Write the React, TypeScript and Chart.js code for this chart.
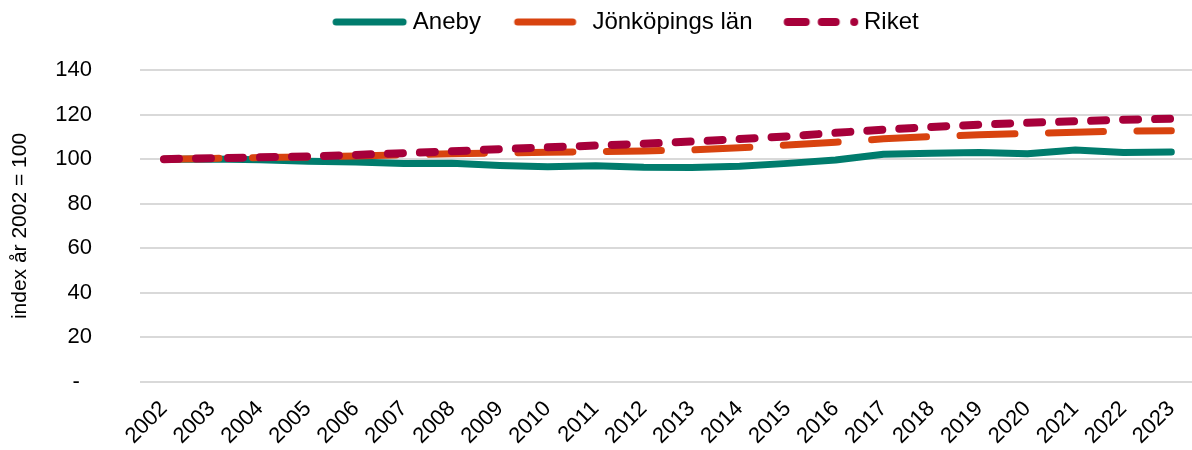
import React, { useEffect, useRef } from "react";
import { Chart, registerables } from "chart.js";

Chart.register(...registerables);

const years = [
  "2002", "2003", "2004", "2005", "2006", "2007", "2008", "2009", "2010", "2011", "2012",
  "2013", "2014", "2015", "2016", "2017", "2018", "2019", "2020", "2021", "2022", "2023",
];

const aneby = [
  100.0, 100.1, 99.7, 99.0, 98.7, 98.0, 98.2, 97.2, 96.6, 97.0, 96.4,
  96.3, 96.8, 98.1, 99.6, 102.2, 102.6, 103.0, 102.4, 104.1, 103.0, 103.2,
];

const jonkopingsLan = [
  100.0, 100.3, 100.7, 101.0, 101.4, 101.9, 102.4, 102.8, 103.1, 103.4, 103.7,
  104.1, 105.1, 106.3, 107.6, 109.1, 110.1, 110.9, 111.5, 112.1, 112.6, 112.7,
];

const riket = [
  100.0, 100.4, 100.8, 101.2, 101.9, 102.7, 103.5, 104.5, 105.3, 106.1, 106.9,
  107.9, 109.0, 110.2, 111.8, 113.2, 114.4, 115.5, 116.3, 117.0, 117.7, 118.1,
];

const yMin = 0;
const yMax = 140;
const yStep = 20;
const zeroLabel = "-  ";

const seriesNames = ["Aneby", "Jönköpings län", "Riket"];
const yTitle = "index år 2002 = 100";

const FONT = "'Liberation Sans', Arial, Helvetica, sans-serif";
const TEAL = "#007C6D";
const ORANGE = "#D8430F";
const CRIMSON = "#A7003A";

function makeSample(segments: [number, number][], color: string, width: number) {
  const c = document.createElement("canvas");
  c.width = 110;
  c.height = 12;
  const ctx = c.getContext("2d")!;
  ctx.strokeStyle = color;
  ctx.lineWidth = width;
  ctx.lineCap = "round";
  for (const [a, b] of segments) {
    ctx.beginPath();
    ctx.moveTo(a, 6);
    ctx.lineTo(b, 6);
    ctx.stroke();
  }
  return c;
}

export default function App() {
  const ref = useRef<HTMLCanvasElement>(null);

  useEffect(() => {
    const samples = [
      makeSample([[35, 102]], TEAL, 7),
      makeSample([[37, 92]], ORANGE, 7),
      makeSample([[35.5, 53.5], [69.5, 83.5], [102, 102.01]], CRIMSON, 8),
    ];
    const legendShift = {
      id: "legendShift",
      afterLayout(chart: any) {
        const l = chart.legend;
        if (!l) return;
        l.top -= 26;
        l.bottom -= 26;
        l.left += 13;
        l.right += 13;
      },
    };
    const chart = new Chart(ref.current!, {
      type: "line",
      data: {
        labels: years,
        datasets: [
          {
            label: seriesNames[0],
            data: aneby,
            borderColor: TEAL,
            backgroundColor: TEAL,
            borderWidth: 7,
            pointRadius: 0,
            pointHoverRadius: 0,
            pointStyle: samples[0] as any,
            borderCapStyle: "round",
            borderJoinStyle: "round",
            tension: 0,
            order: 3,
          },
          {
            label: seriesNames[1],
            data: jonkopingsLan,
            borderColor: ORANGE,
            backgroundColor: ORANGE,
            borderWidth: 7,
            borderDash: [55, 33.5],
            pointRadius: 0,
            pointHoverRadius: 0,
            pointStyle: samples[1] as any,
            borderCapStyle: "round",
            borderJoinStyle: "round",
            tension: 0,
            order: 2,
          },
          {
            label: seriesNames[2],
            data: riket,
            borderColor: CRIMSON,
            backgroundColor: CRIMSON,
            borderWidth: 8,
            borderDash: [15, 17],
            pointRadius: 0,
            pointHoverRadius: 0,
            pointStyle: samples[2] as any,
            borderCapStyle: "round",
            borderJoinStyle: "round",
            tension: 0,
            order: 1,
          },
        ],
      },
      options: {
        animation: false,
        responsive: false,
        events: [],
        layout: { padding: { top: 26, left: 0, right: 0, bottom: 0 } },
        plugins: {
          legend: {
            position: "top",
            labels: {
              usePointStyle: true,
              pointStyleWidth: 89.5,
              padding: 10,
              color: "#000",
              font: { family: FONT, size: 24 },
              sort: (a: any, b: any) => a.datasetIndex - b.datasetIndex,
            },
          },
          tooltip: { enabled: false },
        },
        scales: {
          x: {
            offset: true,
            afterFit: (s: any) => {
              s.height = 68;
            },
            grid: { display: false, drawTicks: false, offset: true },
            border: { display: false },
            ticks: {
              autoSkip: false,
              maxRotation: 45,
              minRotation: 45,
              padding: 14,
              color: "#000",
              font: { family: FONT, size: 22 },
            },
          },
          y: {
            min: yMin,
            max: yMax,
            afterFit: (s: any) => {
              s.width = 140;
            },
            grid: { color: "#D9D9D9", lineWidth: 2, drawTicks: false },
            border: { display: false },
            ticks: {
              stepSize: yStep,
              padding: 48,
              color: "#000",
              font: { family: FONT, size: 22 },
              callback: (v: any) => (Number(v) === 0 ? zeroLabel : String(v)),
            },
            title: {
              display: true,
              text: yTitle,
              color: "#000",
              font: { family: FONT, size: 21 },
              padding: { top: 8, bottom: 0 },
            },
          },
        },
      },
      plugins: [legendShift],
    });
    return () => chart.destroy();
  }, []);

  return (
    <div
      style={{
        position: "fixed",
        left: 0,
        top: 0,
        width: 1192,
        height: 450,
        overflow: "hidden",
        background: "#fff",
      }}
    >
      <canvas
        ref={ref}
        width={1204}
        height={450}
        style={{ display: "block", width: 1204, height: 450 }}
      />
    </div>
  );
}
